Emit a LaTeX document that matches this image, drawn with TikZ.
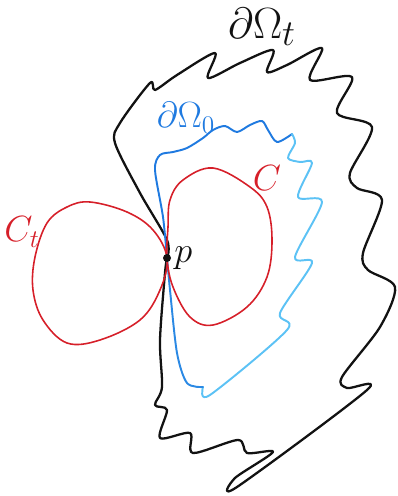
\documentclass[tikz,border=0pt]{standalone}
\usetikzlibrary{positioning}
\definecolor{PencilRed}{rgb}{0.84, 0.12, 0.16}
\definecolor{PencilBlue}{rgb}{0.12, 0.48, 0.88}
\definecolor{PaleBlue}{rgb}{0.36, 0.76, 0.96}
\definecolor{PencilBlack}{rgb}{0.07, 0.07, 0.07}

\begin{document}
\begin{tikzpicture}[
    x=0.02cm, y=-0.02cm,
    contorno/.style={line width=1.3pt, PencilBlack, line join=round, line cap=round},
    inicial/.style={line width=1.1pt, line join=round, line cap=round},
    circulo/.style={line width=0.9pt, PencilRed},
    etiqueta/.style={inner sep=0pt, font=\fontsize{22}{24}\selectfont},
]
\useasboundingbox (0,0) rectangle (397,496);
\coordinate (p) at (167,258);

% --- borde \partial\Omega_t (negro) ---
\draw[contorno] plot[smooth, tension=0.5] coordinates {
    (p) (167,240) (140,193) (115,143) (120,123) (150,83) (155,90) (177,75)
    (215,53) (208,78) (240,63) (273,50) (267,72) (287,65) (322,48) (310,80)
    (352,77) (337,113) (372,127) (350,173) (357,188) (382,200) (363,253)
    (368,270) (395,287) (380,327) (342,377) (347,388) (367,390) (237,487)
    (235,478) (273,452) (247,453) (238,440) (193,453) (190,433) (160,438)
    (167,410) (155,405) (162,387) (160,340) (165,273) (p)};

% --- borde \partial\Omega_0 (azul) ---
\draw[inicial, PencilBlue] plot[smooth, tension=0.5] coordinates {
    (p) (163,217) (155,170) (160,155) (173,152) (187,148) (203,138)
    (213,130) (225,126) (237,132) (250,125) (262,121) (268,130) (277,142)
    (292,134)};
\draw[inicial, PaleBlue] plot[smooth, tension=0.5] coordinates {
    (292,134) (295,143) (288,158) (300,162) (312,163) (298,197) (322,202)
    (295,257) (312,263) (280,313) (287,330) (210,395) (203,387)};
\draw[inicial, PencilBlue!80!PaleBlue] plot[smooth, tension=0.5] coordinates {
    (203,387) (187,383) (177,353) (170,290) (p)};

% --- circulos C y C_t ---
\draw[circulo] plot[smooth cycle, tension=0.6] coordinates {
    (p) (168,227) (170,200) (183,180) (213,168) (250,187) (267,207)
    (272,240) (267,277) (247,307) (213,325) (190,317) (173,287)};
\draw[circulo] plot[smooth cycle, tension=0.6] coordinates {
    (p) (153,230) (127,212) (90,202) (67,207) (47,223) (35,257) (33,290)
    (43,320) (67,343) (100,340) (140,320) (160,290)};

% --- punto p ---
\fill[PencilBlack] (p) circle (4);

% --- etiquetas ---
\node[etiqueta, font=\fontsize{30}{32}\selectfont, text=PencilBlack] (lblOmegaT) at (262,27) {$\partial\Omega_t$};
\node[etiqueta, text=PencilBlue] (lblOmegaO) at (186,118) {$\partial\Omega_0$};
\node[etiqueta, text=PencilRed] (lblC) at (267,178) {$C$};
\node[etiqueta, text=PencilRed] (lblCt) at (22,232) {$C_t$};
\node[etiqueta, text=PencilBlack, right=4pt of p] (lblP) {$p$};

\end{tikzpicture}
\end{document}
